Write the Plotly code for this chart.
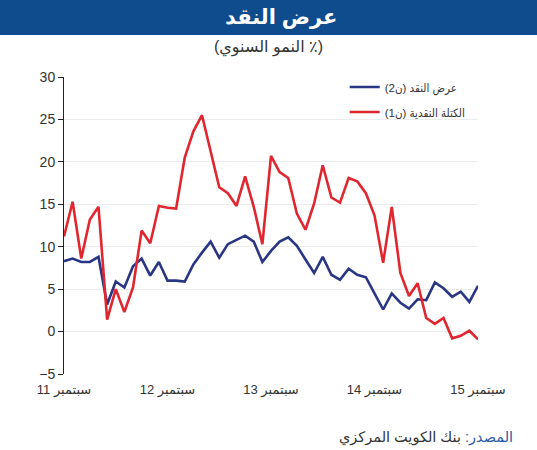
import plotly.graph_objects as go

# monthly, Sep 2011 .. Sep 2015 (49 points)
months = list(range(49))

# M2 money supply, y/y %
m2 = [8.3, 8.6, 8.2, 8.2, 8.8, 3.2, 5.9, 5.2, 7.7, 8.6, 6.6, 8.2,
      6.0, 6.0, 5.9, 7.9, 9.3, 10.6, 8.7, 10.3, 10.8, 11.3, 10.6, 8.2,
      9.5, 10.6, 11.1, 10.1, 8.5, 6.9, 8.8, 6.7, 6.1, 7.4, 6.7, 6.4,
      4.5, 2.6, 4.5, 3.4, 2.7, 3.8, 3.7, 5.8, 5.1, 4.1, 4.7, 3.5, 5.4]

# M1 money supply, y/y %
m1 = [11.2, 15.3, 8.6, 13.2, 14.7, 1.4, 5.0, 2.3, 5.2, 11.9, 10.4, 14.8,
      14.6, 14.5, 20.5, 23.6, 25.5, 21.4, 17.0, 16.3, 14.8, 18.3, 14.7, 10.3,
      20.7, 18.8, 18.1, 13.9, 12.0, 15.1, 19.6, 15.8, 15.2, 18.1, 17.7, 16.3,
      13.7, 8.1, 14.7, 6.9, 4.2, 5.7, 1.6, 0.9, 1.6, -0.8, -0.5, 0.1, -0.9]

tick_pos = [0, 12, 24, 36, 48]
tick_text = ["11 سبتمبر", "12 سبتمبر", "13 سبتمبر", "14 سبتمبر", "15 سبتمبر"]

FONT = "Arial, Liberation Sans, DejaVu Sans, sans-serif"
FONT_NARROW = "Arial, Liberation Sans, DejaVu Sans Condensed, DejaVu Sans, sans-serif"

fig = go.Figure()
fig.add_trace(go.Scatter(x=months, y=m2, mode="lines", name="عرض النقد (ن2)",
                         legendgroup="m2",
                         line=dict(color="#283683", width=2.6)))
fig.add_trace(go.Scatter(x=months, y=m1, mode="lines", name="الكتلة النقدية (ن1)",
                         legendgroup="m1",
                         line=dict(color="#e0262f", width=2.6)))

yax = dict(range=[-5, 30], dtick=5, tick0=0, showgrid=True, gridcolor="#ececec",
           gridwidth=1, zeroline=False, showline=True, linecolor="#222",
           linewidth=1, ticks="outside", ticklen=5, tickcolor="#222",
           tickfont=dict(size=14, color="#333", family=FONT), fixedrange=True)

fig.update_layout(
    width=537, height=450,
    margin=dict(l=64, r=59, t=77, b=76),
    paper_bgcolor="white", plot_bgcolor="white",
    font=dict(family=FONT, color="#333"),
    showlegend=True,
    legend=dict(x=0.678, y=1.015, xanchor="left", yanchor="top",
                bgcolor="rgba(0,0,0,0)",
                font=dict(size=11.5, color="#333", family=FONT_NARROW),
                itemwidth=30, tracegroupgap=6),
    xaxis=dict(range=[0, 48], tickvals=tick_pos, ticktext=tick_text,
               showline=False, showgrid=False, zeroline=False, ticks="",
               ticklabelstandoff=6,
               tickfont=dict(size=13, color="#333", family=FONT)),
    xaxis2=dict(overlaying="x", anchor="free", position=5 / 35, side="bottom",
                range=[0, 48], dtick=1, tick0=0, showticklabels=False,
                showline=True, linecolor="#222", linewidth=1, ticks="outside",
                ticklen=3, tickcolor="#222", showgrid=False, zeroline=False),
    yaxis=yax,
    yaxis2=dict(yax, overlaying="y", side="right", anchor="x", showgrid=False),
    shapes=[dict(type="rect", xref="paper", yref="paper", x0=-0.2, x1=1.2,
                 y0=1 + (77 - 35) / 297, y1=1 + 77 / 297,
                 fillcolor="#0f4c8e", line=dict(width=0), layer="below")],
    annotations=[
        dict(text="<b>عرض النقد</b>", xref="paper", yref="paper",
             x=(281 - 64) / 414, y=1 + (77 - 17) / 297,
             showarrow=False, font=dict(size=21, color="white"),
             xanchor="center", yanchor="middle"),
        dict(text="(النمو السنوي ٪)", xref="paper", yref="paper",
             x=(268 - 64) / 414, y=1 + (77 - 47) / 297,
             showarrow=False, font=dict(size=16, color="#333"),
             xanchor="center", yanchor="middle"),
        dict(text="<span style='color:#2b5aa8'>المصدر:</span> بنك الكويت المركزي",
             xref="paper", yref="paper",
             x=(515 - 64) / 414, y=-(437 - 374) / 297,
             showarrow=False, font=dict(size=14.5, color="#333"),
             xanchor="right", yanchor="middle"),
    ],
)

fig.write_html("out.html", config={"displayModeBar": False},
               post_script="document.body.style.margin='0';")
